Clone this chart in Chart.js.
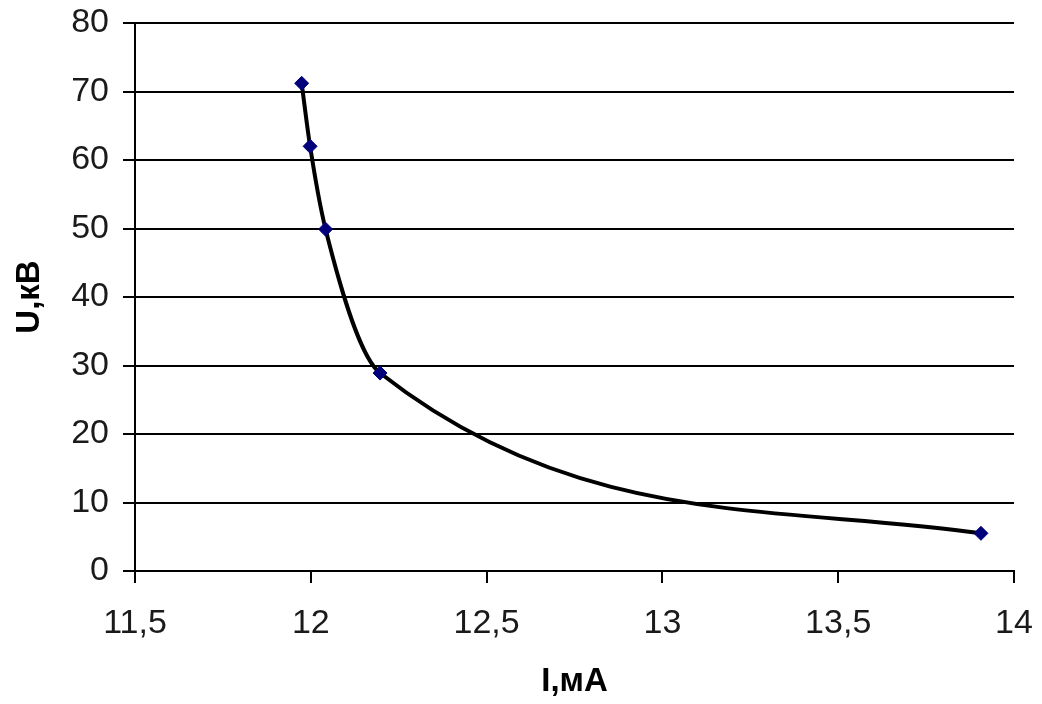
<!DOCTYPE html>
<html>
<head>
<meta charset="utf-8">
<script src="https://cdn.jsdelivr.net/npm/chart.js@4.4.1/dist/chart.umd.min.js"></script>
<style>
html, body { margin: 0; padding: 0; background: #fff; }
#wrap { width: 1042px; height: 704px; }
</style>
</head>
<body>
<div id="wrap"><canvas id="chart"></canvas></div>
<script>
// I, mA  vs  U, kV
const currentMA = [11.974, 11.998, 12.042, 12.197, 13.906];
const voltageKV = [71.2, 62.0, 49.9, 28.9, 5.5];
const xRange = [11.5, 14];
const yRange = [0, 80];
const xStep = 0.5;
const yStep = 10;
const xTitle = 'I,мА';
const yTitle = 'U,кВ';

const FONT = "'Liberation Sans', Arial, sans-serif";
const points = currentMA.map((x, i) => ({x: x, y: voltageKV[i]}));

new Chart(document.getElementById('chart'), {
    type: 'scatter',
    data: {
        datasets: [{
            data: points,
            showLine: true,
            cubicInterpolationMode: 'monotone',
            borderColor: '#000',
            borderWidth: 4,
            pointStyle: 'rectRot',
            pointRadius: 7,
            pointBackgroundColor: '#00007a',
            pointBorderColor: '#00007a',
            pointBorderWidth: 1
        }]
    },
    options: {
        responsive: true,
        maintainAspectRatio: false,
        animation: false,
        layout: {padding: {left: 0, right: 28, top: 23, bottom: 0}},
        plugins: {legend: {display: false}, tooltip: {enabled: false}},
        scales: {
            x: {
                type: 'linear',
                min: xRange[0], max: xRange[1],
                ticks: {
                    stepSize: xStep,
                    color: '#1a1a1a',
                    font: {family: FONT, size: 34},
                    padding: 20,
                    maxRotation: 0,
                    callback: v => String(v).replace('.', ',')
                },
                grid: {drawOnChartArea: false, drawTicks: true, tickLength: 12, color: '#000', lineWidth: 2},
                border: {color: '#000', width: 2},
                title: {display: true, text: xTitle, color: '#000',
                    font: {family: FONT, size: 33, weight: 'bold'}, padding: {top: 0, bottom: 2}},
                afterFit: s => {
                    s.height = 133;
                    s.paddingLeft = 0;
                    s.paddingRight = 0;
                }
            },
            y: {
                min: yRange[0], max: yRange[1],
                ticks: {
                    stepSize: yStep,
                    color: '#1a1a1a',
                    font: {family: FONT, size: 34},
                    padding: 14
                },
                grid: {color: '#000', lineWidth: 2, tickLength: 12},
                border: {color: '#000', width: 2},
                title: {display: true, text: yTitle, color: '#000',
                    font: {family: FONT, size: 33, weight: 'bold'}, padding: {top: 10, bottom: 0}},
                afterFit: s => {
                    s.width = 135;
                    s.paddingTop = 0;
                    s.paddingBottom = 0;
                }
            }
        }
    }
});
</script>
</body>
</html>
